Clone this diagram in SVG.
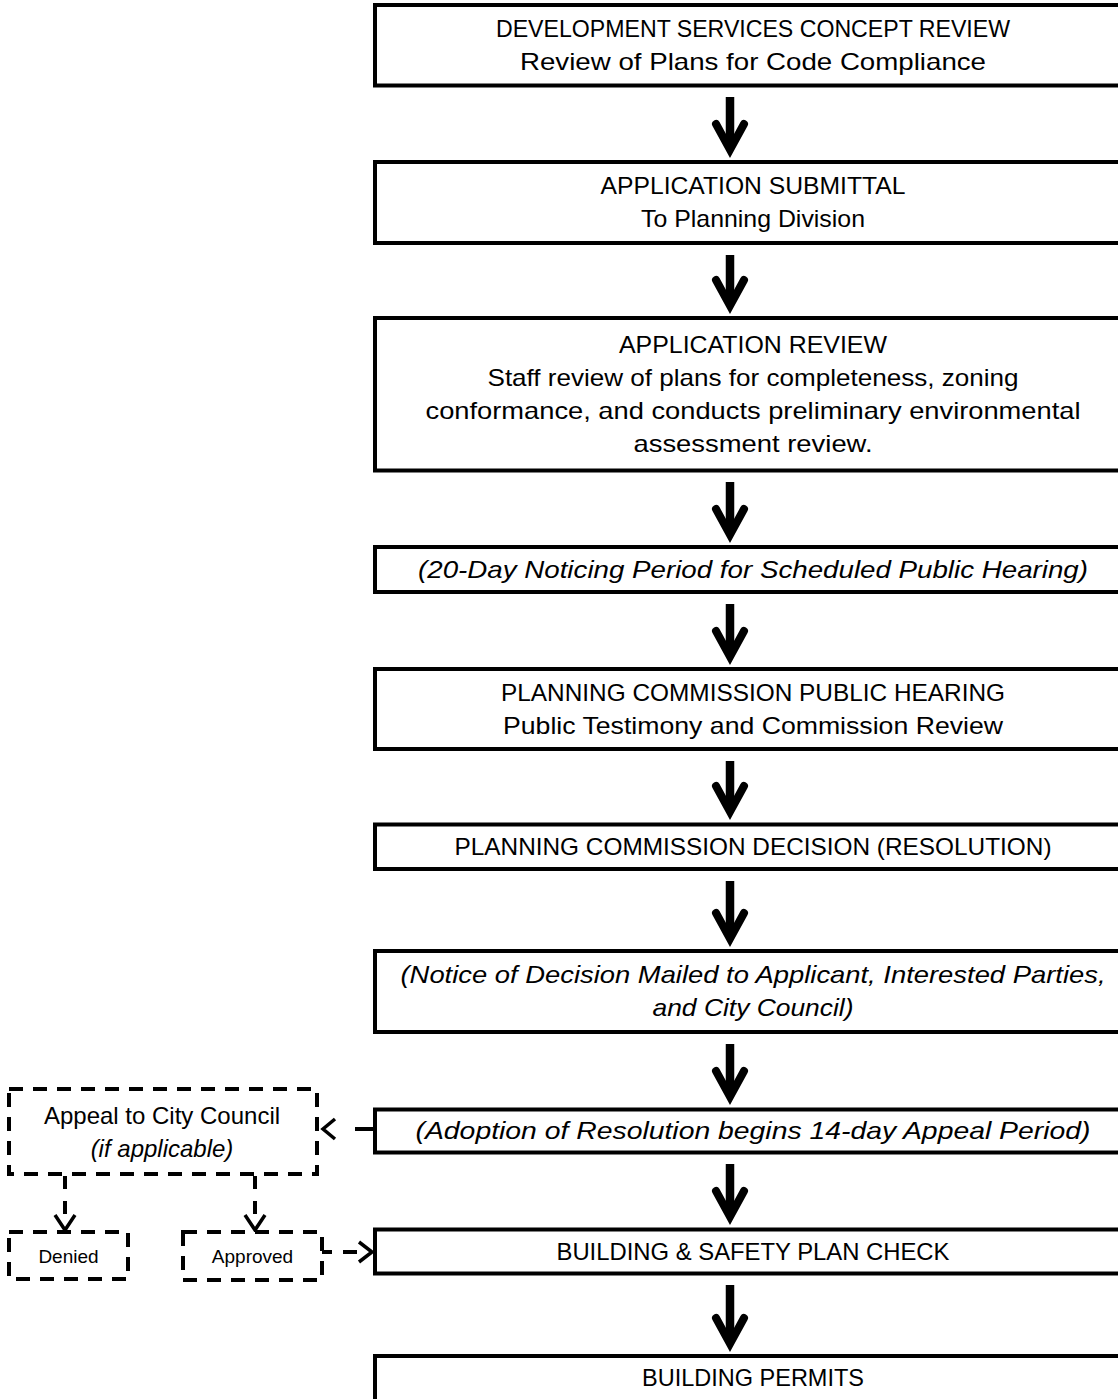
<svg xmlns="http://www.w3.org/2000/svg" width="1118" height="1399" viewBox="0 0 1118 1399">
<style>
.box{fill:#fff;stroke:#000;stroke-width:4}
.dbox{fill:#fff;stroke:#000;stroke-width:4;stroke-dasharray:14 10}
.t{font-family:"Liberation Sans",Arial,sans-serif;font-size:24px;fill:#000;text-anchor:middle}
.i{font-style:italic}
.s{font-size:19px}
.shaft{stroke:#000;stroke-width:8.5;fill:none}
.head{stroke:#000;stroke-width:8;fill:none;stroke-linejoin:miter;stroke-linecap:round}
.dl{stroke:#000;stroke-width:4;fill:none}
.ch{stroke:#000;stroke-width:3.5;fill:none;stroke-linejoin:miter}
</style>
<rect width="1118" height="1399" fill="#fff"/>
<g id="connectors">
<path class="shaft" d="M730,97V148M730,255V304M730,482V533M730,604V655M730,761V810M730,881V937M730,1044V1095M730,1164V1215M730,1285V1342"/>
<path class="head" d="M716,124L730,149.6L744,124M716,280L730,305.6L744,280M716,509L730,534.6L744,509M716,631L730,656.6L744,631M716,786L730,811.6L744,786M716,913L730,938.6L744,913M716,1071L730,1096.6L744,1071M716,1191L730,1216.6L744,1191M716,1318L730,1343.6L744,1318"/>
<path class="dl" d="M373,1129H355"/>
<path class="ch" d="M335,1119L323,1129L335,1139"/>
<path class="dl" d="M65,1176V1189M65,1201V1214M255,1176V1189M255,1201V1214"/>
<path class="ch" d="M55,1215L65,1230L75,1215M245,1215L255,1230L265,1215"/>
<path class="dl" d="M322,1252H332M343,1252H357"/>
<path class="ch" d="M359,1242L372,1252L359,1262"/>
</g>
<g id="n1"><rect class="box" x="375" y="5" width="770" height="80.5"/>
<text class="t" x="753" y="37" textLength="514" lengthAdjust="spacingAndGlyphs">DEVELOPMENT SERVICES CONCEPT REVIEW</text>
<text class="t" x="753" y="70" textLength="466" lengthAdjust="spacingAndGlyphs">Review of Plans for Code Compliance</text></g>
<g id="n2"><rect class="box" x="375" y="162" width="770" height="81"/>
<text class="t" x="753" y="194" textLength="305" lengthAdjust="spacingAndGlyphs">APPLICATION SUBMITTAL</text>
<text class="t" x="753" y="227" textLength="224" lengthAdjust="spacingAndGlyphs">To Planning Division</text></g>
<g id="n3"><rect class="box" x="375" y="318" width="770" height="152.5"/>
<text class="t" x="753" y="352.5" textLength="268" lengthAdjust="spacingAndGlyphs">APPLICATION REVIEW</text>
<text class="t" x="753" y="385.5" textLength="531" lengthAdjust="spacingAndGlyphs">Staff review of plans for completeness, zoning</text>
<text class="t" x="753" y="418.5" textLength="655" lengthAdjust="spacingAndGlyphs">conformance, and conducts preliminary environmental</text>
<text class="t" x="753" y="451.5" textLength="239" lengthAdjust="spacingAndGlyphs">assessment review.</text></g>
<g id="n4"><rect class="box" x="375" y="547" width="770" height="45"/>
<text class="t i" x="753" y="577.5" textLength="670" lengthAdjust="spacingAndGlyphs">(20-Day Noticing Period for Scheduled Public Hearing)</text></g>
<g id="n5"><rect class="box" x="375" y="669" width="770" height="80"/>
<text class="t" x="753" y="700.5" textLength="504" lengthAdjust="spacingAndGlyphs">PLANNING COMMISSION PUBLIC HEARING</text>
<text class="t" x="753" y="733.5" textLength="500" lengthAdjust="spacingAndGlyphs">Public Testimony and Commission Review</text></g>
<g id="n6"><rect class="box" x="375" y="824.5" width="770" height="44.5"/>
<text class="t" x="753" y="855" textLength="597" lengthAdjust="spacingAndGlyphs">PLANNING COMMISSION DECISION (RESOLUTION)</text></g>
<g id="n7"><rect class="box" x="375" y="951" width="770" height="81"/>
<text class="t i" x="753" y="983" textLength="705" lengthAdjust="spacingAndGlyphs">(Notice of Decision Mailed to Applicant, Interested Parties,</text>
<text class="t i" x="753" y="1016" textLength="201" lengthAdjust="spacingAndGlyphs">and City Council)</text></g>
<g id="n8"><rect class="box" x="375" y="1109.5" width="770" height="43"/>
<text class="t i" x="753" y="1139" textLength="675" lengthAdjust="spacingAndGlyphs">(Adoption of Resolution begins 14-day Appeal Period)</text></g>
<g id="n9"><rect class="box" x="375" y="1229.5" width="770" height="44"/>
<text class="t" x="753" y="1259.5" textLength="393" lengthAdjust="spacingAndGlyphs">BUILDING &amp; SAFETY PLAN CHECK</text></g>
<g id="n10"><rect class="box" x="375" y="1356" width="770" height="70"/>
<text class="t" x="753" y="1386" textLength="222" lengthAdjust="spacingAndGlyphs">BUILDING PERMITS</text></g>
<g id="appeal"><rect class="dbox" x="9" y="1089" width="308" height="85"/>
<text class="t" x="162" y="1124">Appeal to City Council</text>
<text class="t i" x="162" y="1157">(if applicable)</text></g>
<g id="denied"><rect class="dbox" x="9" y="1232" width="119" height="47"/>
<text class="t s" x="68.5" y="1263">Denied</text></g>
<g id="approved"><rect class="dbox" x="183" y="1232" width="139" height="48"/>
<text class="t s" x="252.5" y="1263">Approved</text></g>
</svg>
